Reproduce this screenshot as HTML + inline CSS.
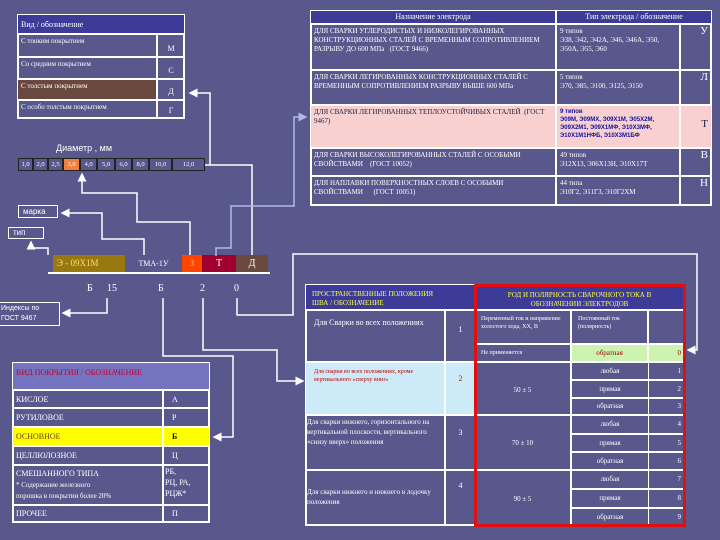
<!DOCTYPE html>
<html><head><meta charset="utf-8"><style>
*{margin:0;padding:0;box-sizing:border-box}
body{width:720px;height:540px;background:#58588c;position:relative;overflow:hidden;font-family:"Liberation Serif","DejaVu Serif",serif;color:#fff}
.a{position:absolute}
.c{position:absolute;border:1px solid #fff;font-size:7px;line-height:9px;padding:2px 3px;overflow:hidden}
.s{font-family:"Liberation Sans",sans-serif}
.t{border:1px solid #222}
</style></head><body>
<div class="a" style="left:17px;top:14px;width:168px;height:105px;border:2px solid #fff"></div>
<div class="c" style="left:17px;top:14px;width:168px;height:20px;background:#3c3c98;font-size:8px;padding-top:5px">Вид / обозначение</div>
<div class="c" style="left:17px;top:34px;width:140px;height:23px">С тонким покрытием</div><div class="c" style="left:157px;top:34px;width:28px;height:23px;text-align:center;padding-top:9px;font-size:8px">М</div>
<div class="c" style="left:17px;top:57px;width:140px;height:22px">Со средним покрытием</div><div class="c" style="left:157px;top:57px;width:28px;height:22px;text-align:center;padding-top:8px;font-size:8px">С</div>
<div class="c" style="left:17px;top:79px;width:140px;height:21px;background:#6a4840">С толстым покрытием</div><div class="c" style="left:157px;top:79px;width:28px;height:21px;text-align:center;padding-top:7px;font-size:8px">Д</div>
<div class="c" style="left:17px;top:100px;width:140px;height:19px">С особо толстым покрытием</div><div class="c" style="left:157px;top:100px;width:28px;height:19px;text-align:center;padding-top:5px;font-size:8px">Г</div>
<div class="a s" style="left:56px;top:143px;font-size:9px">Диаметр , мм</div>
<div class="a" style="left:18px;top:158px;height:13px;display:flex;font-size:6.5px;line-height:11px">
<div class="t" style="width:15px;text-align:center">1,0</div><div class="t" style="width:15px;text-align:center">2,0</div><div class="t" style="width:15px;text-align:center">2,5</div><div class="t" style="width:17px;text-align:center;background:#f08040">3,0</div><div class="t" style="width:17px;text-align:center">4,0</div><div class="t" style="width:18px;text-align:center">5,0</div><div class="t" style="width:17px;text-align:center">6,0</div><div class="t" style="width:17px;text-align:center">8,0</div><div class="t" style="width:23px;text-align:center">10,0</div><div class="t" style="width:33px;text-align:center">12,0</div></div>
<div class="a s" style="left:18px;top:205px;width:40px;height:13px;border:1px solid #fff;font-size:8px;padding-left:4px;line-height:11px">марка</div>
<div class="a s" style="left:8px;top:227px;width:36px;height:12px;border:1px solid #fff;font-size:8px;padding-left:4px;line-height:10px">тип</div>
<div class="a s" style="left:-2px;top:302px;width:62px;height:24px;border:1px solid #fff;font-size:7px;line-height:10px;padding:1px 2px">Индексы по<br>ГОСТ 9467</div>
<div class="a" style="left:53px;top:255px;width:72px;height:17px;background:#9a7810;color:#ffe060;font-size:9px;line-height:17px;padding-left:4px">Э - 09Х1М</div>
<div class="a" style="left:125px;top:255px;width:57px;height:17px;font-size:8px;line-height:17px;text-align:center">ТМА-1У</div>
<div class="a" style="left:182px;top:255px;width:20px;height:17px;background:#ff4400;color:#ffb080;font-size:9px;line-height:17px;text-align:center">З</div>
<div class="a" style="left:202px;top:255px;width:34px;height:17px;background:#a00030;font-size:10px;line-height:17px;text-align:center">Т</div>
<div class="a" style="left:236px;top:255px;width:32px;height:17px;background:#6a4a40;font-size:10px;line-height:17px;text-align:center">Д</div>
<div class="a" style="left:48px;top:272px;width:222px;height:2px;background:#fff"></div>
<div class="a" style="left:87px;top:283px;font-size:10px">Б</div><div class="a" style="left:107px;top:283px;font-size:10px">15</div>
<div class="a" style="left:158px;top:283px;font-size:10px">Б</div><div class="a" style="left:200px;top:283px;font-size:10px">2</div><div class="a" style="left:234px;top:283px;font-size:10px">0</div>
<div class="a" style="left:310px;top:10px;width:402px;height:196px;border:2px solid #fff"></div>
<div class="c" style="left:310px;top:10px;width:246px;height:14px;background:#3c3c98;text-align:center;font-size:8px;padding-top:1px">Назначение электрода</div>
<div class="c" style="left:556px;top:10px;width:156px;height:14px;background:#3c3c98;text-align:center;font-size:8px;padding-top:1px">Тип электрода / обозначение</div>
<div class="c" style="left:310px;top:24px;width:246px;height:46px">ДЛЯ СВАРКИ УГЛЕРОДИСТЫХ И НИЗКОЛЕГИРОВАННЫХ КОНСТРУКЦИОННЫХ СТАЛЕЙ С ВРЕМЕННЫМ СОПРОТИВЛЕНИЕМ РАЗРЫВУ ДО 600 МПа&nbsp;&nbsp;&nbsp;(ГОСТ 9466)</div>
<div class="c" style="left:556px;top:24px;width:124px;height:46px">9 типов<br>Э38, Э42, Э42А, Э46, Э46А, Э50, Э50А, Э55, Э60</div>
<div class="c" style="left:680px;top:24px;width:32px;height:46px;text-align:right;font-size:11px">У</div>
<div class="c" style="left:310px;top:70px;width:246px;height:35px">ДЛЯ СВАРКИ ЛЕГИРОВАННЫХ КОНСТРУКЦИОННЫХ СТАЛЕЙ С ВРЕМЕННЫМ СОПРОТИВЛЕНИЕМ РАЗРЫВУ ВЫШЕ 600 МПа</div>
<div class="c" style="left:556px;top:70px;width:124px;height:35px">5 типов<br>Э70, Э85, Э100, Э125, Э150</div>
<div class="c" style="left:680px;top:70px;width:32px;height:35px;text-align:right;font-size:11px">Л</div>
<div class="c" style="left:310px;top:105px;width:246px;height:43px;background:#f8d0d0;color:#224">ДЛЯ СВАРКИ ЛЕГИРОВАННЫХ ТЕПЛОУСТОЙЧИВЫХ СТАЛЕЙ&nbsp;&nbsp;(ГОСТ 9467)</div>
<div class="c s" style="left:556px;top:105px;width:124px;height:43px;background:#f8d0d0;color:#1010a0;font-weight:bold;font-size:6px;line-height:8px">9 типов<br>Э09М, Э09МХ, Э09Х1М, Э05Х2М, Э09Х2М1, Э09Х1МФ, Э10Х3МФ, Э10Х1М1НФБ, Э10Х3М1БФ</div>
<div class="c" style="left:680px;top:105px;width:32px;height:43px;background:#f8d0d0;color:#224;text-align:right;font-size:11px;padding-top:14px">Т</div>
<div class="c" style="left:310px;top:148px;width:246px;height:28px">ДЛЯ СВАРКИ ВЫСОКОЛЕГИРОВАННЫХ СТАЛЕЙ С ОСОБЫМИ СВОЙСТВАМИ&nbsp;&nbsp;&nbsp;&nbsp;(ГОСТ 10052)</div>
<div class="c" style="left:556px;top:148px;width:124px;height:28px">49 типов<br>Э12Х13, Э06Х13Н, Э10Х17Т</div>
<div class="c" style="left:680px;top:148px;width:32px;height:28px;text-align:right;font-size:11px">В</div>
<div class="c" style="left:310px;top:176px;width:246px;height:30px">ДЛЯ НАПЛАВКИ ПОВЕРХНОСТНЫХ СЛОЕВ С ОСОБЫМИ СВОЙСТВАМИ&nbsp;&nbsp;&nbsp;&nbsp;&nbsp;&nbsp;(ГОСТ 10051)</div>
<div class="c" style="left:556px;top:176px;width:124px;height:30px">44 типа<br>Э10Г2, Э11Г3, Э10Г2ХМ</div>
<div class="c" style="left:680px;top:176px;width:32px;height:30px;text-align:right;font-size:11px">Н</div>
<div class="a" style="left:12px;top:362px;width:198px;height:161px;border:2px solid #fff"></div>
<div class="c" style="left:12px;top:362px;width:198px;height:28px;background:#7474c0;color:#c00030;font-size:8px;padding-top:5px">ВИД ПОКРЫТИЯ / ОБОЗНАЧЕНИЕ</div>
<div class="c" style="left:12px;top:390px;width:151px;height:18px;font-size:8px;padding-top:4px">КИСЛОЕ</div><div class="c" style="left:163px;top:390px;width:47px;height:18px;font-size:8px;padding:4px 8px">А</div>
<div class="c" style="left:12px;top:408px;width:151px;height:19px;font-size:8px;padding-top:4px">РУТИЛОВОЕ</div><div class="c" style="left:163px;top:408px;width:47px;height:19px;font-size:8px;padding:4px 8px">Р</div>
<div class="c" style="left:12px;top:427px;width:151px;height:19px;font-size:8px;padding-top:4px;background:#ffff00;color:#704000">ОСНОВНОЕ</div><div class="c" style="left:163px;top:427px;width:47px;height:19px;font-size:8px;padding:4px 8px;background:#ffff00;color:#000;font-weight:bold">Б</div>
<div class="c" style="left:12px;top:446px;width:151px;height:19px;font-size:8px;padding-top:4px">ЦЕЛЛЮЛОЗНОЕ</div><div class="c" style="left:163px;top:446px;width:47px;height:19px;font-size:8px;padding:4px 8px">Ц</div>
<div class="c" style="left:12px;top:465px;width:151px;height:40px;font-size:7px;line-height:11px"><span style="font-size:8px">СМЕШАННОГО ТИПА</span><br>* Содержание железного<br>порошка в покрытии более 20%</div><div class="c" style="left:163px;top:465px;width:47px;height:40px;font-size:8px;line-height:11px;padding:0 1px">РБ,<br>РЦ, РА,<br>РЦЖ*</div>
<div class="c" style="left:12px;top:505px;width:151px;height:18px;font-size:8px;padding-top:3px">ПРОЧЕЕ</div><div class="c" style="left:163px;top:505px;width:47px;height:18px;font-size:8px;padding:3px 8px">П</div>
<div class="a" style="left:305px;top:284px;width:171px;height:242px;border:2px solid #fff"></div>
<div class="c" style="left:305px;top:284px;width:171px;height:26px;background:#3c3c98;color:#ffff40;font-size:7px;padding:5px 6px">ПРОСТРАНСТВЕННЫЕ ПОЛОЖЕНИЯ<br>ШВА / ОБОЗНАЧЕНИЕ</div>
<div class="c" style="left:305px;top:310px;width:140px;height:52px;font-size:8px;line-height:11px;padding:6px 8px">Для Сварки во всех положениях</div><div class="c" style="left:445px;top:310px;width:31px;height:52px;text-align:center;padding-top:14px;font-size:8px">1</div>
<div class="c" style="left:305px;top:362px;width:140px;height:53px;background:#cceaf8;color:#c00000;font-size:6px;line-height:8px;padding:5px 8px">Для сварки во всех положениях, кроме вертикального «сверху вниз»</div><div class="c" style="left:445px;top:362px;width:31px;height:53px;background:#cceaf8;color:#804000;text-align:center;padding-top:11px;font-size:8px">2</div>
<div class="c" style="left:305px;top:415px;width:140px;height:55px;font-size:7px;line-height:10px;padding:1px 1px">Для сварки нижнего, горизонтального на вертикальной плоскости, вертикального «снизу вверх» положения</div><div class="c" style="left:445px;top:415px;width:31px;height:55px;text-align:center;padding-top:12px;font-size:8px">3</div>
<div class="c" style="left:305px;top:470px;width:140px;height:56px;font-size:7px;line-height:10px;padding:16px 1px">Для сварки нижнего и нижнего в лодочку положения</div><div class="c" style="left:445px;top:470px;width:31px;height:56px;text-align:center;padding-top:10px;font-size:8px">4</div>
<div class="c" style="left:474px;top:285px;width:211px;height:25px;background:#3c3c98;color:#ffff40;text-align:center;padding-top:5px">РОД И ПОЛЯРНОСТЬ СВАРОЧНОГО ТОКА В<br>ОБОЗНАЧЕНИИ ЭЛЕКТРОДОВ</div>
<div class="c" style="left:474px;top:310px;width:97px;height:34px;font-size:6px;line-height:8px;padding:4px 6px">Переменный ток и напряжение холостого хода, ХХ, В</div>
<div class="c" style="left:571px;top:310px;width:77px;height:34px;font-size:6px;line-height:8px;padding:4px 6px">Постоянный ток (полярность)</div>
<div class="c" style="left:648px;top:310px;width:37px;height:34px"></div>
<div class="c" style="left:474px;top:344px;width:97px;height:18px;font-size:6px;padding:4px 6px">Не применяется</div>
<div class="c" style="left:571px;top:344px;width:77px;height:18px;background:#ccf4b0;color:#a00000;text-align:center;padding-top:4px">обратная</div>
<div class="c" style="left:648px;top:344px;width:37px;height:18px;background:#ccf4b0;color:#a00000;text-align:right;padding-top:4px">0</div>
<div class="c" style="left:474px;top:362px;width:97px;height:53px;text-align:center;padding-top:23px">50 ± 5</div>
<div class="c" style="left:474px;top:415px;width:97px;height:55px;text-align:center;padding-top:23px">70 ± 10</div>
<div class="c" style="left:474px;top:470px;width:97px;height:56px;text-align:center;padding-top:24px">90 ± 5</div>
<div class="a" style="left:571px;top:362px;width:114px;font-size:7px">
<div style="display:flex;height:18px;line-height:16px;border:1px solid #fff"><div style="width:77px;text-align:center;border-right:1px solid #fff">любая</div><div style="flex:1;text-align:right;padding-right:3px">1</div></div>
<div style="display:flex;height:18px;line-height:16px;border:1px solid #fff"><div style="width:77px;text-align:center;border-right:1px solid #fff">прямая</div><div style="flex:1;text-align:right;padding-right:3px">2</div></div>
<div style="display:flex;height:17px;line-height:15px;border:1px solid #fff"><div style="width:77px;text-align:center;border-right:1px solid #fff">обратная</div><div style="flex:1;text-align:right;padding-right:3px">3</div></div>
<div style="display:flex;height:19px;line-height:17px;border:1px solid #fff"><div style="width:77px;text-align:center;border-right:1px solid #fff">любая</div><div style="flex:1;text-align:right;padding-right:3px">4</div></div>
<div style="display:flex;height:18px;line-height:16px;border:1px solid #fff"><div style="width:77px;text-align:center;border-right:1px solid #fff">прямая</div><div style="flex:1;text-align:right;padding-right:3px">5</div></div>
<div style="display:flex;height:18px;line-height:16px;border:1px solid #fff"><div style="width:77px;text-align:center;border-right:1px solid #fff">обратная</div><div style="flex:1;text-align:right;padding-right:3px">6</div></div>
<div style="display:flex;height:19px;line-height:17px;border:1px solid #fff"><div style="width:77px;text-align:center;border-right:1px solid #fff">любая</div><div style="flex:1;text-align:right;padding-right:3px">7</div></div>
<div style="display:flex;height:19px;line-height:17px;border:1px solid #fff"><div style="width:77px;text-align:center;border-right:1px solid #fff">прямая</div><div style="flex:1;text-align:right;padding-right:3px">8</div></div>
<div style="display:flex;height:18px;line-height:16px;border:1px solid #fff"><div style="width:77px;text-align:center;border-right:1px solid #fff">обратная</div><div style="flex:1;text-align:right;padding-right:3px">9</div></div>
</div>
<div class="a" style="left:474px;top:284px;width:212px;height:243px;border:3px solid #e01010"></div>
<svg class="a" style="left:0;top:0" width="720" height="540">
<defs><marker id="m" markerWidth="6" markerHeight="6" refX="5" refY="3" orient="auto"><path d="M0,0L6,3L0,6z" fill="#fff"/></marker>
<marker id="mb" markerWidth="6" markerHeight="6" refX="5" refY="3" orient="auto"><path d="M0,0L6,3L0,6z" fill="#b0b8f0"/></marker></defs>
<g fill="none" stroke="#fff" stroke-width="1.5">
<polyline points="252,255 252,165 205,165"/>
<polyline points="210,165 210,93 190,93" marker-end="url(#m)"/>
<polyline points="190,255 190,222 137,222 137,193 82,193 82,174" marker-end="url(#m)"/>
<polyline points="144,255 144,239 102,239 102,213 62,213" marker-end="url(#m)"/>
<polyline points="48,255 48,248 31,248 31,242" marker-end="url(#m)"/>
<polyline points="107,298 107,313 63,313" marker-end="url(#m)"/>
<polyline points="163,298 163,356 233,356 233,437 214,437" marker-end="url(#m)"/>
<polyline points="203,298 203,350 277,350 277,381 303,381" marker-end="url(#m)"/>
<polyline points="237,298 237,315 293,315 293,254 697,254 697,350 688,350" marker-end="url(#m)"/>
</g>
<polyline points="216,256 216,248 231,248 231,206 294,206 294,117 306,117" fill="none" stroke="#b0b8f0" stroke-width="1.5" marker-end="url(#mb)"/>
</svg>
</body></html>
